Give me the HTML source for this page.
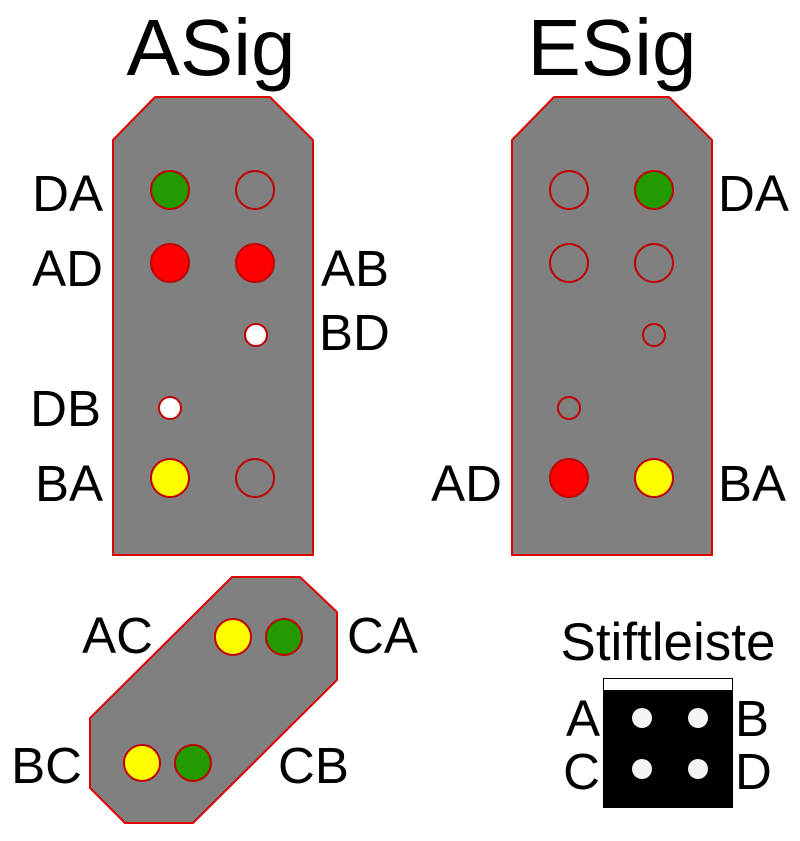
<!DOCTYPE html>
<html><head><style>body{margin:0;background:#fff}</style></head><body>
<svg width="800" height="836" xmlns="http://www.w3.org/2000/svg" font-family="Liberation Sans, sans-serif">
<rect width="800" height="836" fill="#fff"/>
<g fill="#808080" stroke="#e00000" stroke-width="2">
<polygon points="113,140 155,97 270,97 313,140 313,555 113,555"/>
<polygon points="512,140 554,97 669,97 712,140 712,555 512,555"/>
<polygon points="232,577 300,577 337,612 337,680 193,823 125,823 90,788 90,718"/>
</g>
<g stroke="#c00000" stroke-width="2">
<circle cx="170" cy="190" r="19" fill="#229a00"/>
<circle cx="255" cy="190" r="19" fill="none"/>
<circle cx="170" cy="263" r="19" fill="#ff0000"/>
<circle cx="255" cy="263" r="19" fill="#ff0000"/>
<circle cx="256" cy="335" r="11" fill="#fff"/>
<circle cx="170" cy="408" r="11" fill="#fff"/>
<circle cx="170" cy="478" r="19" fill="#ffff00"/>
<circle cx="255" cy="478" r="19" fill="none"/>
<circle cx="569" cy="190" r="19" fill="none"/>
<circle cx="654" cy="190" r="19" fill="#229a00"/>
<circle cx="569" cy="263" r="19" fill="none"/>
<circle cx="654" cy="263" r="19" fill="none"/>
<circle cx="654" cy="335" r="11" fill="none"/>
<circle cx="569" cy="408" r="11" fill="none"/>
<circle cx="569" cy="478" r="19" fill="#ff0000"/>
<circle cx="654" cy="478" r="19" fill="#ffff00"/>
<circle cx="233" cy="637" r="18" fill="#ffff00"/>
<circle cx="284" cy="637" r="18" fill="#229a00"/>
<circle cx="142" cy="763" r="18" fill="#ffff00"/>
<circle cx="193" cy="763" r="18" fill="#229a00"/>
</g>
<rect x="603" y="678" width="130" height="130" fill="#000"/>
<rect x="604" y="679" width="128" height="11" fill="#fff"/>
<g fill="#f4f4f4"><circle cx="642" cy="718" r="10"/><circle cx="698" cy="718" r="10"/><circle cx="642" cy="769" r="10"/><circle cx="698" cy="769" r="10"/></g>
<g font-size="80" text-anchor="middle"><text x="211" y="75">ASig</text><text x="612" y="75">ESig</text></g>
<g font-size="51">
<text x="103" y="211" text-anchor="end">DA</text>
<text x="103" y="286" text-anchor="end">AD</text>
<text x="321" y="286">AB</text>
<text x="319" y="350">BD</text>
<text x="101" y="426" text-anchor="end">DB</text>
<text x="103" y="501" text-anchor="end">BA</text>
<text x="718" y="211">DA</text>
<text x="502" y="501" text-anchor="end">AD</text>
<text x="718" y="501">BA</text>
<text x="153" y="653" text-anchor="end">AC</text>
<text x="347" y="653">CA</text>
<text x="82" y="783" text-anchor="end">BC</text>
<text x="278" y="783">CB</text>
<text x="668" y="660" text-anchor="middle" font-size="53">Stiftleiste</text>
<text x="600" y="736" text-anchor="end">A</text>
<text x="600" y="789" text-anchor="end">C</text>
<text x="735" y="736">B</text>
<text x="735" y="789">D</text>
</g>
</svg>
</body></html>
